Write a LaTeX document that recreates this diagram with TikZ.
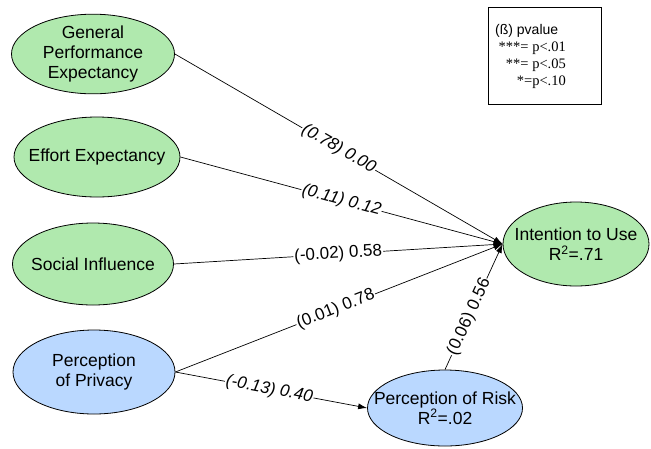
\documentclass[tikz,border=0pt]{standalone}
\usepackage{fontspec}
\setmainfont{Liberation Sans}
\newfontfamily\timesfont{Liberation Serif}
\usetikzlibrary{shapes.geometric}
\usetikzlibrary{arrows.meta}
\usetikzlibrary{positioning}
\definecolor{lgreen}{RGB}{176,233,174}
\definecolor{lblue}{RGB}{186,216,255}

\begin{document}
\begin{tikzpicture}[x=1pt,y=-1pt,construct/.style={ellipse, draw, line width=0.8pt, inner sep=0pt, align=center, font=\fontsize{17.5pt}{20pt}\selectfont}]
    \tikzset{effect/.style={line width=0.7pt, -{Latex[length=9pt,width=6pt]}}}
    \tikzset{coef/.style={sloped, fill=white, inner sep=1pt, font=\fontsize{17pt}{20pt}\selectfont}}
    \tikzset{coefslant/.style={coef, font=\fontsize{17pt}{20pt}\selectfont\itshape}}
    \tikzset{keytext/.style={inner sep=0pt, font=\timesfont\fontsize{14.5pt}{16pt}\selectfont}}
    \useasboundingbox (0,0) rectangle (651,448);

    % constructs
    \node[construct, fill=lgreen, minimum width=163pt, minimum height=78pt] (gpe) at (93,54) {General\\Performance\\Expectancy};
    \node[construct, fill=lgreen, minimum width=166pt, minimum height=80pt, inner xsep=-11pt] (ee) at (97,157) {Effort Expectancy};
    \node[construct, fill=lgreen, minimum width=161pt, minimum height=82pt, inner xsep=-6pt] (si) at (93,264) {Social Influence};
    \node[construct, fill=lblue, minimum width=162pt, minimum height=84pt] (pp) at (94,372) {Perception\\of Privacy};
    \node[construct, fill=lgreen, minimum width=146pt, minimum height=84pt, inner xsep=-11pt] (itu) at (576,244) {Intention to Use\\R\textsuperscript{2}=.71};
    \node[construct, fill=lblue, minimum width=155pt, minimum height=76pt, inner xsep=-17pt] (pr) at (445,408) {Perception of Risk\\R\textsuperscript{2}=.02};

    % paths with (beta) pvalue
    \draw[effect] (gpe.east) -- node[coefslant, pos=0.5] (c1) {(0.78) 0.00} (itu.west);
    \draw[effect] (ee.east) -- node[coefslant, pos=0.5] (c2) {(0.11) 0.12} (itu.west);
    \draw[effect] (si.east) -- node[coef, pos=0.5] (c3) {(-0.02) 0.58} (itu.west);
    \draw[effect] (pp.east) -- node[coef, pos=0.49] (c4) {(0.01) 0.78} (itu.west);
    \draw[effect] (pp.east) -- node[coefslant, pos=0.49] (c5) {(-0.13) 0.40} (pr.west);
    \draw[effect] (pr.north) -- node[coef, pos=0.42] (c6) {(0.06) 0.56} (itu.west);

    % legend
    \node[draw, line width=0.8pt, minimum width=113pt, minimum height=97pt, inner sep=0pt] (key) at (544.5,55.5) {};
    \node[anchor=west, inner sep=0pt, font=\fontsize{14pt}{16pt}\selectfont] (keyhead) at (495,31) {(ß) pvalue};
    \node[keytext, anchor=east] (key1) at (566,48) {***= p<.01};
    \node[keytext, anchor=east] (key2) at (566,65) {**= p<.05};
    \node[keytext, anchor=east] (key3) at (566,82) {*=p<.10};
\end{tikzpicture}
\end{document}
